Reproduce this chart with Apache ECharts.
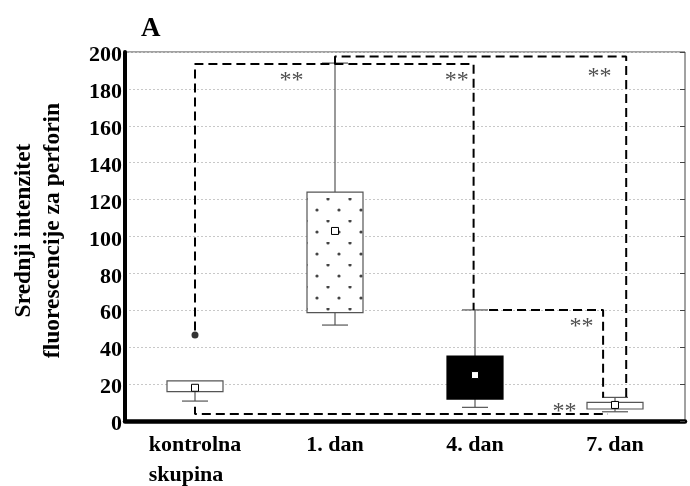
<!DOCTYPE html>
<html>
<head>
<meta charset="utf-8">
<script src="https://cdn.jsdelivr.net/npm/echarts@6/dist/echarts.min.js"></script>
<style>
html,body{margin:0;padding:0;background:#fff;overflow:hidden;}
#chart{width:690px;height:486px;}
</style>
</head>
<body>
<div id="chart"></div>
<script>
// ---- data ----
const categories = ['kontrolna\nskupina', '1. dan', '4. dan', '7. dan'];
const whiskerLow  = [10.8, 52.0, 7.4, 5.0];
const boxLow      = [15.9, 58.7, 11.9, 6.5];
const means       = [18.0, 103.0, 24.9, 8.7];
const boxHigh     = [21.8, 124.0, 35.2, 10.1];
const whiskerHigh = [21.8, 194.0, 60.2, 12.8];
const outliers    = [[0, 46.6]];
const yTicks      = { min: 0, max: 200, step: 20 };

// significance brackets (x in category units, y in data units)
const bracketCtrl1d4d = [[0, 49], [0, 193.5], [1.99, 193.5], [1.99, 60.2]];
const bracket1d7d     = [[1, 193.5], [1, 197.5], [3.08, 197.5], [3.08, 12.8]];
const bracket4d7d     = [[2.1, 60.2], [2.915, 60.2], [2.915, 12.8]];
const bracketCtrl7d   = [[0, 7.7], [0, 3.8], [2.95, 3.8]];
const starMarks       = [[0.69, 186.4], [1.87, 186.4], [2.89, 188.6], [2.76, 53.1], [2.64, 7.0]];

// ---- styles ----
const serif = '"Liberation Serif","Times New Roman",serif';
function dotPattern() {
  const c = document.createElement('canvas');
  c.width = 22; c.height = 22;
  const g = c.getContext('2d');
  g.fillStyle = '#fff'; g.fillRect(0, 0, 22, 22);
  g.fillStyle = '#444';
  [[9, 12], [20, 1]].forEach(p => { g.beginPath(); g.arc(p[0], p[1], 1.6, 0, Math.PI * 2); g.fill(); });
  return c;
}
const boxFills = ['#fff', { image: dotPattern(), repeat: 'repeat' }, '#000', '#fff'];
const boxStrokes = ['#555', '#555', '#000', '#555'];

const boxData = categories.map((c, i) => [i, whiskerLow[i], boxLow[i], means[i], boxHigh[i], whiskerHigh[i]]);

function renderBox(params, api) {
  const i = api.value(0);
  const band = api.size([1, 0])[0];
  const bw = band * 0.4, cw = band * 0.186;
  const pLo = api.coord([i, api.value(1)]);
  const pQ1 = api.coord([i, api.value(2)]);
  const pM  = api.coord([i, api.value(3)]);
  const pQ3 = api.coord([i, api.value(4)]);
  const pHi = api.coord([i, api.value(5)]);
  const x = pQ1[0];
  const ls = { stroke: '#555', lineWidth: 1.2 };
  const ch = [];
  ch.push({ type: 'line', shape: { x1: x, y1: pQ1[1], x2: x, y2: pLo[1] }, style: ls });
  ch.push({ type: 'line', shape: { x1: x - cw / 2, y1: pLo[1], x2: x + cw / 2, y2: pLo[1] }, style: ls });
  if (api.value(5) > api.value(4)) {
    ch.push({ type: 'line', shape: { x1: x, y1: pQ3[1], x2: x, y2: pHi[1] }, style: ls });
    ch.push({ type: 'line', shape: { x1: x - cw / 2, y1: pHi[1], x2: x + cw / 2, y2: pHi[1] }, style: ls });
  }
  ch.push({ type: 'rect', shape: { x: x - bw / 2, y: pQ3[1], width: bw, height: pQ1[1] - pQ3[1] },
            style: { fill: boxFills[i], stroke: boxStrokes[i], lineWidth: 1.2 } });
  ch.push({ type: 'rect', shape: { x: x - 3.5, y: pM[1] - 3.5, width: 7, height: 7 },
            style: { fill: '#fff', stroke: '#000', lineWidth: 1 } });
  return { type: 'group', children: ch };
}

const dashStyle = { color: '#000', width: 2, type: [9, 5] };
function bracket(data) {
  return { type: 'line', xAxisIndex: 1, yAxisIndex: 0, data: data, symbol: 'none',
           lineStyle: dashStyle, silent: true, z: 5, animation: false };
}

const chart = echarts.init(document.getElementById('chart'), null, { renderer: 'canvas', width: 690, height: 486 });
chart.setOption({
  animation: false,
  backgroundColor: '#fff',
  title: { text: 'A', left: 136, top: 11,
           textStyle: { fontFamily: serif, fontWeight: 'bold', fontSize: 27, color: '#000' } },
  grid: { left: 125, right: 5, top: 52, bottom: 65, show: true, borderColor: '#444', borderWidth: 1,
          containLabel: false, outerBoundsMode: 'none' },
  xAxis: [
    { type: 'category', data: categories, boundaryGap: true,
      axisLine: { lineStyle: { color: '#000', width: 4.5 } },
      axisTick: { show: false },
      axisLabel: { interval: 0, margin: 9, color: '#000', fontFamily: serif, fontWeight: 'bold', fontSize: 22, lineHeight: 30,
        formatter: v => v.indexOf('\n') >= 0 ? v.split('\n').map(s => '{l|' + s + '}').join('\n') : v,
        rich: { l: { align: 'left', fontFamily: serif, fontWeight: 'bold', fontSize: 22, lineHeight: 30, color: '#000' } } } },
    { type: 'value', min: -0.5, max: 3.5, show: false }
  ],
  yAxis: [
    { type: 'value', min: yTicks.min, max: yTicks.max, interval: yTicks.step,
      name: 'Srednji intenzitet\nfluorescencije za perforin', nameLocation: 'middle', nameRotate: 90, nameGap: 58,
      nameTextStyle: { fontFamily: serif, fontWeight: 'bold', fontSize: 23.5, lineHeight: 29, color: '#000', padding: [0, 0, 0, 12] },
      axisLine: { show: true, onZero: false, lineStyle: { color: '#000', width: 4 } },
      axisTick: { show: false },
      axisLabel: { margin: 3, color: '#000', fontFamily: serif, fontWeight: 'bold', fontSize: 22,
                   verticalAlign: 'top', lineHeight: 7 },
      splitLine: { show: true, lineStyle: { color: '#c8c8c8', type: [2, 2], width: 1 } } },
    { type: 'value', position: 'right', min: yTicks.min, max: yTicks.max, interval: yTicks.step,
      axisLine: { show: false, onZero: false }, axisLabel: { show: false }, splitLine: { show: false },
      axisTick: { show: true, inside: true, length: 5, lineStyle: { color: '#444' } } }
  ],
  series: [
    { type: 'custom', xAxisIndex: 0, yAxisIndex: 0, data: boxData, renderItem: renderBox, z: 3 },
    { type: 'scatter', xAxisIndex: 0, yAxisIndex: 0, data: outliers, symbol: 'circle', symbolSize: 7,
      itemStyle: { color: '#000' }, z: 6 },
    bracket(bracketCtrl1d4d),
    bracket(bracket1d7d),
    bracket(bracket4d7d),
    bracket(bracketCtrl7d),
    { type: 'scatter', xAxisIndex: 1, yAxisIndex: 0, data: starMarks, symbolSize: 1,
      itemStyle: { color: 'rgba(0,0,0,0)' }, z: 7,
      label: { show: true, position: 'inside', formatter: '**', color: '#222',
               fontFamily: serif, fontSize: 24, offset: [0, 4] } }
  ]
});
</script>
</body>
</html>
